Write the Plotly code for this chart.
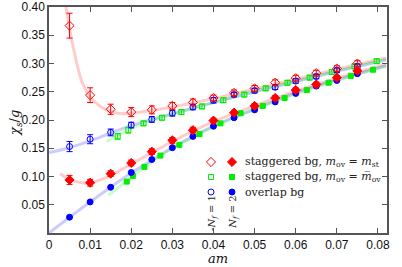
import plotly.graph_objects as go

# ---------------- data ----------------
am = [0.005, 0.010, 0.015, 0.020, 0.025, 0.030, 0.035, 0.040, 0.045, 0.050,
      0.055, 0.060, 0.065, 0.070, 0.075]

red_open_y = [0.367, 0.244, 0.219, 0.214, 0.218, 0.225, 0.231, 0.239, 0.248, 0.256,
              0.266, 0.274, 0.283, 0.291, 0.300]
red_open_err = [0.022, 0.013, 0.009, 0.008, 0.007, 0.006, 0.006, 0.005, 0.005, 0.005,
                0.005, 0.005, 0.005, 0.005, 0.005]
red_fill_y = [0.094, 0.089, 0.105, 0.124, 0.144, 0.164, 0.182, 0.199, 0.213, 0.225,
              0.239, 0.253, 0.263, 0.275, 0.287]
red_fill_err = [0.008, 0.006, 0.005, 0.005, 0.005, 0.005, 0.005, 0.004, 0.004, 0.004,
                0.004, 0.004, 0.004, 0.004, 0.004]

blue_open_y = [0.153, 0.166, 0.178, 0.191, 0.201, 0.212, 0.223, 0.235, 0.245, 0.252,
               0.258, 0.269, 0.277, 0.288, 0.295]
blue_open_err = [0.009, 0.008, 0.006, 0.005, 0.005, 0.005, 0.005, 0.005, 0.004, 0.004,
                 0.004, 0.004, 0.004, 0.004, 0.004]
blue_fill_y = [0.028, 0.055, 0.081, 0.107, 0.130, 0.151, 0.171, 0.189, 0.204, 0.218,
               0.232, 0.247, 0.260, 0.270, 0.282]

green_open_x = [0.0167, 0.0193, 0.0230, 0.0275, 0.0322, 0.0372, 0.0424, 0.0475, 0.0527,
                0.0580, 0.0634, 0.0688, 0.0743, 0.0797]
green_open_y = [0.171, 0.182, 0.194, 0.204, 0.214, 0.224, 0.235, 0.245, 0.256,
                0.266, 0.275, 0.285, 0.295, 0.304]
green_open_err = [0.005, 0.005, 0.004, 0.004, 0.004, 0.004, 0.004, 0.004, 0.004,
                  0.004, 0.004, 0.004, 0.004, 0.004]
green_fill_x = [0.0189, 0.0204, 0.0232, 0.0271, 0.0317, 0.0366, 0.0417, 0.0466, 0.0520,
                0.0573, 0.0627, 0.0680, 0.0734, 0.0788]
green_fill_y = [0.091, 0.101, 0.117, 0.137, 0.156, 0.175, 0.194, 0.212, 0.225,
                0.239, 0.253, 0.266, 0.278, 0.289]

# fit curves
fit_red_open_x = [0.0041, 0.006, 0.008, 0.010, 0.0125, 0.015, 0.018, 0.020, 0.025, 0.030,
                  0.040, 0.050, 0.060, 0.070, 0.082]
fit_red_open_y = [0.400, 0.325, 0.268, 0.241, 0.224, 0.215, 0.211, 0.212, 0.217, 0.223,
                  0.238, 0.255, 0.272, 0.290, 0.310]
fit_red_fill_x = [0.0027, 0.005, 0.008, 0.010, 0.0125, 0.015, 0.020, 0.025, 0.030, 0.040,
                  0.050, 0.060, 0.070, 0.082]
fit_red_fill_y = [0.105, 0.095, 0.089, 0.089, 0.094, 0.102, 0.122, 0.142, 0.162, 0.197,
                  0.225, 0.251, 0.274, 0.299]
fit_blue_open_x = [0.0, 0.005, 0.010, 0.015, 0.020, 0.025, 0.030, 0.040, 0.050, 0.060,
                   0.070, 0.082]
fit_blue_open_y = [0.1425, 0.151, 0.163, 0.177, 0.190, 0.201, 0.211, 0.231, 0.250, 0.268,
                   0.286, 0.306]
fit_blue_fill_x = [0.0, 0.005, 0.010, 0.015, 0.020, 0.025, 0.030, 0.040, 0.050, 0.060,
                   0.070, 0.082]
fit_blue_fill_y = [0.0, 0.028, 0.055, 0.081, 0.106, 0.129, 0.151, 0.189, 0.219, 0.248,
                   0.271, 0.296]
fit_green_open_x = [0.014, 0.020, 0.025, 0.030, 0.040, 0.050, 0.060, 0.070, 0.082]
fit_green_open_y = [0.162, 0.185, 0.199, 0.210, 0.231, 0.251, 0.269, 0.287, 0.308]
fit_green_fill_x = [0.0145, 0.020, 0.025, 0.030, 0.040, 0.050, 0.060, 0.070, 0.082]
fit_green_fill_y = [0.067, 0.098, 0.126, 0.150, 0.188, 0.220, 0.246, 0.270, 0.295]

x_ticks = [0, 0.01, 0.02, 0.03, 0.04, 0.05, 0.06, 0.07, 0.08]
x_ticktext = ["0", "0.01", "0.02", "0.03", "0.04", "0.05", "0.06", "0.07", "0.08"]
y_ticks = [0.05, 0.10, 0.15, 0.20, 0.25, 0.30, 0.35, 0.40]
y_ticktext = ["0.05", "0.10", "0.15", "0.20", "0.25", "0.30", "0.35", "0.40"]

legend_labels = [
    "staggered bg, <i>m</i><sub>ov</sub> = <i>m</i><sub>st</sub>",
    "staggered bg, <i>m</i><sub>ov</sub> = <i>m\u0305</i><sub>ov</sub>",
    "overlap bg",
]
nf_labels = ["-<i>N<sub>f</sub></i> = 1", "<i>N<sub>f</sub></i> = 2"]
nf_x = [0.0397, 0.0448]

RED, GREEN, BLUE = "#ff0000", "#00ee00", "#0000ff"
RED_L, GREEN_L, BLUE_L = "rgba(255,0,0,0.2)", "rgba(0,255,0,0.22)", "rgba(0,0,255,0.2)"

fig = go.Figure()

def fit(x, y, c):
    fig.add_trace(go.Scatter(x=x, y=y, mode="lines", line=dict(color=c, width=3, shape="spline"),
                             showlegend=False, hoverinfo="skip"))

fit(fit_red_open_x, fit_red_open_y, RED_L)
fit(fit_blue_open_x, fit_blue_open_y, BLUE_L)
fit(fit_green_open_x, fit_green_open_y, GREEN_L)
fit(fit_red_fill_x, fit_red_fill_y, RED_L)
fit(fit_blue_fill_x, fit_blue_fill_y, BLUE_L)
fit(fit_green_fill_x, fit_green_fill_y, GREEN_L)

def pts(x, y, err, sym, c, size):
    ey = dict(type="data", array=err, color=c, thickness=1, width=3) if err else None
    fig.add_trace(go.Scatter(x=x, y=y, mode="markers", error_y=ey,
                             marker=dict(symbol=sym, color=c, size=size,
                                         line=dict(color=c, width=1)),
                             showlegend=False))

pts(green_open_x, green_open_y, green_open_err, "square-open", GREEN, 5)
pts(green_fill_x, green_fill_y, None, "square", GREEN, 5)
pts(am, blue_open_y, blue_open_err, "circle-open", BLUE, 6)
pts(am, blue_fill_y, None, "circle", BLUE, 6)
pts(am, red_open_y, red_open_err, "diamond-open", RED, 7)
pts(am, red_fill_y, red_fill_err, "diamond", RED, 7)

FW, FH = 402, 267
L0, T0 = 49, 7
W0 = 387 - 49
H0 = 233 - 7

def px2paper(px, py):
    return (px - L0) / W0, (T0 + H0 - py) / H0

glyphs = [("diamond-open", RED, 211, 162, 7), ("diamond", RED, 232, 162, 7),
          ("square-open", GREEN, 211, 177, 5), ("square", GREEN, 232, 177, 5),
          ("circle-open", BLUE, 211, 192, 6), ("circle", BLUE, 232, 192, 6)]
layout_legends = {}
for i, (sym, c, gx, gy, sz) in enumerate(glyphs):
    name = "legend" if i == 0 else f"legend{i+1}"
    fig.add_trace(go.Scatter(x=[None], y=[None], mode="markers", name=" ",
                             marker=dict(symbol=sym, color=c, size=sz, line=dict(color=c, width=1)),
                             legend=name, showlegend=True))
    lx, ly = px2paper(gx - 20, gy)
    layout_legends[name] = dict(x=lx, y=ly, xanchor="left", yanchor="middle",
                                bgcolor="rgba(0,0,0,0)", borderwidth=0,
                                font=dict(size=10), itemwidth=30)

annotations = []
for i, lab in enumerate(legend_labels):
    ax, ay = px2paper(243, [162, 177, 192][i])
    annotations.append(dict(x=ax, y=ay, xref="paper", yref="paper", text=lab,
                            showarrow=False, xanchor="left", yanchor="middle",
                            font=dict(family="DejaVu Serif", size=11, color="#222")))
for xv, lab in zip(nf_x, nf_labels):
    annotations.append(dict(x=xv, y=0.036, xref="x", yref="y", text=lab, textangle=-90,
                            showarrow=False, xanchor="center", yanchor="middle",
                            font=dict(family="DejaVu Serif", size=10, color="#222")))
tx, ty = px2paper(218, 258)
annotations.append(dict(x=tx, y=ty, xref="paper", yref="paper", text="<i>am</i>",
                        showarrow=False, xanchor="center", yanchor="middle",
                        font=dict(family="DejaVu Serif", size=13, color="#111")))
tx, ty = px2paper(15, 123)
annotations.append(dict(x=tx, y=ty, xref="paper", yref="paper",
                        text="<i>χ<sub>s</sub></i>/<i>g</i>", textangle=-90,
                        showarrow=False, xanchor="center", yanchor="middle",
                        font=dict(family="DejaVu Serif", size=13, color="#111")))

axis_common = dict(showline=True, linecolor="#555", linewidth=1.5, mirror="ticks",
                   ticks="inside", ticklen=5, tickcolor="#555", tickwidth=1,
                   showgrid=False, zeroline=False, automargin=False,
                   tickfont=dict(family="Liberation Sans", size=12, color="#111"))

fig.update_layout(
    width=FW, height=FH,
    margin=dict(l=L0, r=FW - L0 - W0, t=T0, b=FH - T0 - H0, pad=0),
    paper_bgcolor="white", plot_bgcolor="white",
    xaxis=dict(range=[0, 0.0822], tickvals=x_ticks, ticktext=x_ticktext, **axis_common),
    yaxis=dict(range=[0, 0.40], tickvals=y_ticks, ticktext=y_ticktext, **axis_common),
    annotations=annotations,
    **layout_legends,
)

fig.write_html("out.html", config={"displayModeBar": False},
               post_script="document.body.style.margin='0';"
                           "document.documentElement.style.overflow='hidden';")
